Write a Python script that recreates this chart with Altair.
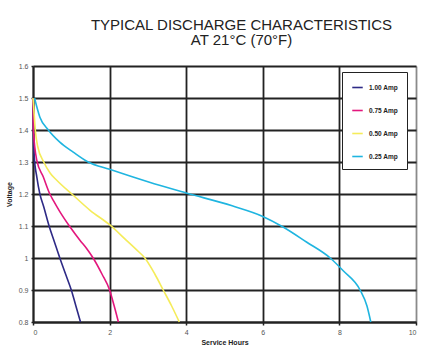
import altair as alt
import pandas as pd

series_names = ["1.00 Amp", "0.75 Amp", "0.50 Amp", "0.25 Amp"]
series_colors = ["#2e2a86", "#e3177d", "#f5ec5a", "#1fb5e0"]

amp100_x = [0, 0.01, 0.03, 0.10, 0.18, 0.28, 0.42, 0.56, 0.70, 0.85, 1.00, 1.12, 1.24]
amp100_y = [1.5, 1.40, 1.32, 1.253, 1.20, 1.16, 1.10, 1.05, 1.0, 0.95, 0.90, 0.85, 0.80]

amp075_x = [0, 0.01, 0.10, 0.27, 0.44, 0.53, 0.70, 0.95, 1.23, 1.40, 1.57, 1.80, 2.00, 2.12, 2.23]
amp075_y = [1.5, 1.40, 1.305, 1.253, 1.20, 1.18, 1.145, 1.10, 1.055, 1.03, 1.0, 0.95, 0.90, 0.85, 0.80]

amp050_x = [0, 0.03, 0.06, 0.12, 0.28, 0.45, 0.62, 1.05, 1.49, 2.00, 2.44, 2.70, 2.92, 3.18, 3.40, 3.62, 3.82]
amp050_y = [1.5, 1.45, 1.40, 1.35, 1.30, 1.265, 1.243, 1.196, 1.149, 1.104, 1.055, 1.026, 1.0, 0.95, 0.90, 0.85, 0.80]

amp025_x = [0.04, 0.18, 0.40, 0.70, 1.05, 1.44, 2.0, 3.0, 4.0, 5.2, 6.0, 6.53, 7.14, 7.76, 8.1, 8.54, 8.72, 8.82]
amp025_y = [1.5, 1.44, 1.40, 1.362, 1.331, 1.30, 1.277, 1.238, 1.203, 1.163, 1.13, 1.097, 1.05, 1.0, 0.96, 0.90, 0.85, 0.80]

x_ticks = [0, 2, 4, 6, 8, 10]
y_ticks = [0.8, 0.9, 1.0, 1.1, 1.2, 1.3, 1.4, 1.5, 1.6]

rows = []
for name, xs, ys in zip(series_names,
                        [amp100_x, amp075_x, amp050_x, amp025_x],
                        [amp100_y, amp075_y, amp050_y, amp025_y]):
    for i, (x, y) in enumerate(zip(xs, ys)):
        rows.append({"series": name, "hours": x, "voltage": y, "order": i})
df = pd.DataFrame(rows)

FONT = "Liberation Sans"

chart = alt.Chart(df).mark_line(strokeWidth=1.6, interpolate="monotone").encode(
    x=alt.X("hours:Q", scale=alt.Scale(domain=[0, 10], nice=False, zero=False),
            axis=alt.Axis(values=x_ticks, title="Service Hours", format="d",
                          grid=True,
                          gridColor={"condition": {"test": "datum.value === 10", "value": "#8a8a8a"}, "value": "#222222"},
                          gridWidth=1.8, gridOpacity=1,
                          domainColor="#222222", domainWidth=1.8,
                          tickColor="#222222", tickSize=3, tickWidth=1.5,
                          labelFont=FONT, labelFontSize=7, labelColor="#555555", labelPadding=3,
                          titleFont=FONT, titleFontSize=7, titleFontWeight="bold", titleColor="#222222",
                          titlePadding=3)),
    y=alt.Y("voltage:Q", scale=alt.Scale(domain=[0.8, 1.6], nice=False, zero=False),
            axis=alt.Axis(values=y_ticks, title="Voltage", format=".1~f",
                          grid=True, gridColor="#222222", gridWidth=1.8, gridOpacity=1,
                          domainColor="#222222", domainWidth=1.8,
                          tickColor="#222222", tickSize=2, tickWidth=1.5,
                          labelFont=FONT, labelFontSize=7, labelColor="#555555", labelPadding=3,
                          titleFont=FONT, titleFontSize=7, titleFontWeight="bold", titleColor="#222222",
                          titlePadding=6)),
    color=alt.Color("series:N", scale=alt.Scale(domain=series_names, range=series_colors),
                    legend=alt.Legend(title=None, orient="none", legendX=309, legendY=6,
                                      symbolType="stroke", symbolSize=110, symbolStrokeWidth=1.6,
                                      labelFont=FONT, labelFontSize=6.5, labelFontWeight="bold",
                                      labelColor="#222222", labelOffset=5,
                                      rowPadding=13, padding=9,
                                      fillColor="white", strokeColor="#222222")),
    order="order:Q",
).properties(
    width=383, height=256,
    title=alt.TitleParams(text=["TYPICAL DISCHARGE CHARACTERISTICS", "AT 21°C (70°F)"],
                          anchor="middle", dx=17, offset=14, font=FONT, fontSize=15,
                          fontWeight="normal", color="#222222", lineHeight=15.5),
    autosize=alt.AutoSizeParams(type="none"),
    padding={"left": 33, "top": 66, "right": 12, "bottom": 29},
).configure_view(stroke="#8a8a8a", strokeWidth=1.5).configure_legend(
    strokeWidth=1.5
).configure(background="white")

chart.save("out.html", embed_options={"renderer": "svg", "actions": False})
